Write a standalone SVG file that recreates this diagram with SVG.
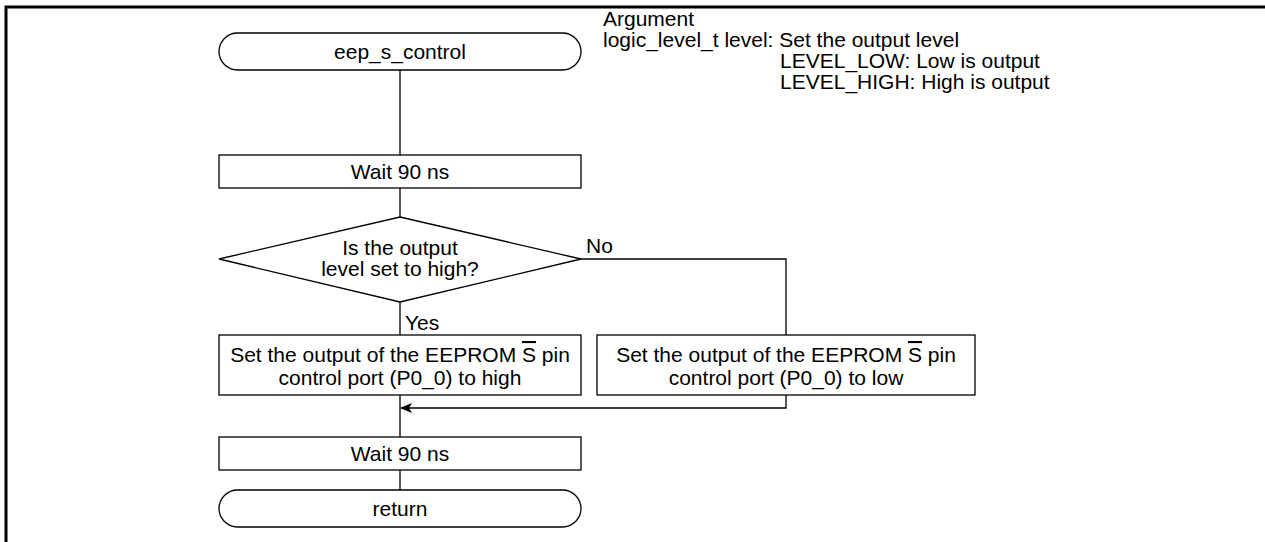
<svg xmlns="http://www.w3.org/2000/svg" width="1265" height="542" viewBox="0 0 1265 542">
<defs>
<style>
.s{fill:#fff;stroke:#000;stroke-width:1.3}
.c{fill:none;stroke:#000;stroke-width:1.3}
text{font-family:"Liberation Sans",Arial,sans-serif;font-size:21px;fill:#000}
.m{text-anchor:middle}
</style>
<marker id="ah" markerWidth="12" markerHeight="10" refX="11" refY="5" orient="auto" markerUnits="userSpaceOnUse">
<path d="M0,0 L12,5 L0,10 L3,5 Z" fill="#000"/>
</marker>
</defs>
<rect x="0" y="0" width="1265" height="542" fill="#fff"/>
<path d="M6,542 V7 H1265" fill="none" stroke="#000" stroke-width="3"/>
<g id="connectors">
<path class="c" d="M400,70 V155"/>
<path class="c" d="M400,188 V217"/>
<path class="c" d="M400,302 V335"/>
<path class="c" d="M581,259 H786 V335"/>
<path class="c" d="M400,395 V437"/>
<path class="c" d="M786,395 V408 H401" marker-end="url(#ah)"/>
<path class="c" d="M400,470 V490"/>
</g>
<g id="start">
<rect class="s" x="219" y="33" width="362" height="37" rx="18.5"/>
<text class="m" x="400" y="59">eep_s_control</text>
</g>
<g id="args">
<text x="603" y="26">Argument</text>
<text x="603" y="47">logic_level_t level: Set the output level</text>
<text x="780" y="68">LEVEL_LOW: Low is output</text>
<text x="780" y="89">LEVEL_HIGH: High is output</text>
</g>
<g id="wait1">
<rect class="s" x="219" y="155" width="362" height="33"/>
<text class="m" x="400" y="179">Wait 90 ns</text>
</g>
<g id="decision">
<polygon class="s" points="400,217 581,259 400,302 219,259"/>
<text class="m" x="400" y="255">Is the output</text>
<text class="m" x="400" y="276">level set to high?</text>
<text x="586" y="253">No</text>
<text x="405" y="330">Yes</text>
</g>
<g id="high">
<rect class="s" x="219" y="335" width="362" height="60"/>
<text class="m" x="400" y="362">Set the output of the EEPROM <tspan text-decoration="overline">S</tspan> pin</text>
<text class="m" x="400" y="385">control port (P0_0) to high</text>
</g>
<g id="low">
<rect class="s" x="597" y="335" width="378" height="60"/>
<text class="m" x="786" y="362">Set the output of the EEPROM <tspan text-decoration="overline">S</tspan> pin</text>
<text class="m" x="786" y="385">control port (P0_0) to low</text>
</g>
<g id="wait2">
<rect class="s" x="219" y="437" width="362" height="33"/>
<text class="m" x="400" y="461">Wait 90 ns</text>
</g>
<g id="end">
<rect class="s" x="219" y="490" width="362" height="37" rx="18.5"/>
<text class="m" x="400" y="516">return</text>
</g>
</svg>
